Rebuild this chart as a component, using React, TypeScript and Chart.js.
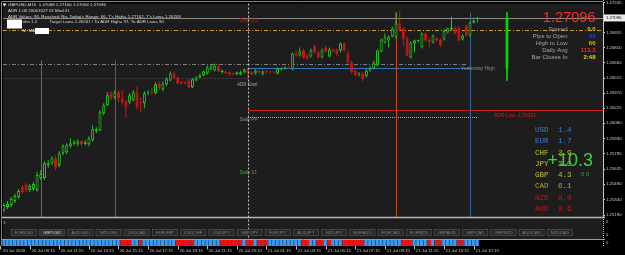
import React, { useEffect, useRef } from "react";
import { Chart, registerables } from "chart.js";

Chart.register(...registerables);

// ---------------- data ----------------
const symbolLine = "GBPUSD,M15  1.27088 1.27106 1.27053 1.27096";
const indicatorLine = "ADR 1.08 20051027 01 Mod 01";
const adrValuesLine = "ADR Values: 96, Reached: No, Today's Range: 66, T's High= 1.27162, T's Low= 1.26203";
const adrTargetPrefix = "ohn 1.2";
const adrTargetLine = "Target Low= 1.26201 / To ADR High= 37, To ADR Low= 90";
const maLine = "M  MA";

const opens = [
  1.25200, 1.25239, 1.25267, 1.25287, 1.25325, 1.25364, 1.25460, 1.25480, 1.25432, 1.25441,
  1.25432, 1.25547, 1.25547, 1.25673, 1.25692, 1.25740, 1.25673, 1.25788, 1.25798, 1.25856,
  1.25880, 1.25875, 1.25904, 1.25875, 1.25875, 1.25914, 1.26001, 1.26010, 1.26174, 1.26251,
  1.26367, 1.26328, 1.26377, 1.26319, 1.26290, 1.26280, 1.26300, 1.26377, 1.26280, 1.26271,
  1.26367, 1.26377, 1.26367, 1.26463, 1.26406, 1.26454, 1.26492, 1.26560, 1.26521, 1.26473,
  1.26473, 1.26492, 1.26425, 1.26492, 1.26521, 1.26541, 1.26560, 1.26599, 1.26589, 1.26628,
  1.26570, 1.26579, 1.26570, 1.26560, 1.26550, 1.26550, 1.26570, 1.26608, 1.26570, 1.26560,
  1.26584, 1.26550, 1.26579, 1.26574, 1.26574, 1.26560, 1.26599, 1.26604, 1.26618, 1.26599,
  1.26753, 1.26734, 1.26782, 1.26734, 1.26724, 1.26820, 1.26762, 1.26714, 1.26811, 1.26724,
  1.26791, 1.26791, 1.26782, 1.26849, 1.26753, 1.26666, 1.26589, 1.26550, 1.26560, 1.26531,
  1.26589, 1.26608, 1.26637, 1.26772, 1.26859, 1.26878, 1.26917, 1.26907, 1.27042, 1.26994,
  1.26898, 1.26714, 1.26849, 1.26873, 1.26811, 1.26946, 1.26888, 1.26859, 1.26898, 1.26888,
  1.26888, 1.26955, 1.26984, 1.27004, 1.27004, 1.26888, 1.27023, 1.26926, 1.27052, 1.27088,
];
const highs = [
  1.25267, 1.25306, 1.25325, 1.25364, 1.25393, 1.25441, 1.25480, 1.25499, 1.25489, 1.25509,
  1.25605, 1.25624, 1.25711, 1.25721, 1.25759, 1.25769, 1.25808, 1.25875, 1.25885, 1.25933,
  1.25914, 1.25923, 1.25914, 1.25914, 1.25952, 1.26058, 1.26039, 1.26203, 1.26271, 1.26377,
  1.26386, 1.26396, 1.26396, 1.26396, 1.26309, 1.26367, 1.26396, 1.26435, 1.26328, 1.26386,
  1.26396, 1.26425, 1.26473, 1.26483, 1.26483, 1.26521, 1.26579, 1.26579, 1.26531, 1.26483,
  1.26483, 1.26502, 1.26512, 1.26531, 1.26560, 1.26589, 1.26637, 1.26647, 1.26656, 1.26647,
  1.26599, 1.26589, 1.26579, 1.26570, 1.26579, 1.26589, 1.26608, 1.26618, 1.26579, 1.26599,
  1.26589, 1.26589, 1.26589, 1.26579, 1.26579, 1.26618, 1.26618, 1.26628, 1.26628, 1.26762,
  1.26782, 1.26811, 1.26801, 1.26753, 1.26801, 1.26840, 1.26782, 1.26801, 1.26830, 1.26811,
  1.26801, 1.26801, 1.26859, 1.26859, 1.26782, 1.26685, 1.26599, 1.26570, 1.26570, 1.26599,
  1.26628, 1.26685, 1.26791, 1.26898, 1.26946, 1.26926, 1.27013, 1.27148, 1.27162, 1.27004,
  1.26917, 1.26869, 1.26888, 1.26888, 1.26955, 1.26955, 1.26898, 1.26936, 1.26907, 1.26898,
  1.26984, 1.27004, 1.27110, 1.27013, 1.27013, 1.26936, 1.27033, 1.27061, 1.27081, 1.27106,
];
const lows = [
  1.25181, 1.25219, 1.25248, 1.25267, 1.25306, 1.25345, 1.25393, 1.25412, 1.25412, 1.25422,
  1.25412, 1.25528, 1.25528, 1.25644, 1.25673, 1.25624, 1.25653, 1.25769, 1.25779, 1.25837,
  1.25866, 1.25856, 1.25856, 1.25866, 1.25856, 1.25904, 1.25981, 1.26001, 1.26155, 1.26242,
  1.26300, 1.26309, 1.26280, 1.26261, 1.26135, 1.26261, 1.26290, 1.26213, 1.26184, 1.26222,
  1.26348, 1.26348, 1.26357, 1.26396, 1.26386, 1.26435, 1.26483, 1.26512, 1.26454, 1.26454,
  1.26454, 1.26415, 1.26415, 1.26483, 1.26512, 1.26531, 1.26550, 1.26589, 1.26579, 1.26570,
  1.26560, 1.26550, 1.26541, 1.26541, 1.26541, 1.26541, 1.26560, 1.26492, 1.26541, 1.26550,
  1.26560, 1.26541, 1.26560, 1.26560, 1.26560, 1.26550, 1.26589, 1.26599, 1.26599, 1.26589,
  1.26724, 1.26724, 1.26705, 1.26695, 1.26714, 1.26753, 1.26705, 1.26705, 1.26762, 1.26714,
  1.26762, 1.26734, 1.26762, 1.26772, 1.26656, 1.26560, 1.26531, 1.26531, 1.26483, 1.26521,
  1.26579, 1.26599, 1.26628, 1.26762, 1.26849, 1.26811, 1.26907, 1.26898, 1.26965, 1.26830,
  1.26724, 1.26705, 1.26762, 1.26859, 1.26801, 1.26869, 1.26811, 1.26849, 1.26869, 1.26820,
  1.26878, 1.26946, 1.26975, 1.26936, 1.26869, 1.26878, 1.26917, 1.26917, 1.27042, 1.27053,
];
const closes = [
  1.25248, 1.25287, 1.25296, 1.25345, 1.25374, 1.25422, 1.25412, 1.25432, 1.25470, 1.25489,
  1.25576, 1.25586, 1.25692, 1.25692, 1.25740, 1.25653, 1.25788, 1.25856, 1.25866, 1.25885,
  1.25894, 1.25904, 1.25875, 1.25894, 1.25933, 1.26020, 1.26020, 1.26184, 1.26251, 1.26348,
  1.26319, 1.26377, 1.26319, 1.26280, 1.26232, 1.26348, 1.26377, 1.26232, 1.26271, 1.26367,
  1.26377, 1.26367, 1.26454, 1.26415, 1.26463, 1.26502, 1.26560, 1.26521, 1.26463, 1.26468,
  1.26463, 1.26425, 1.26502, 1.26521, 1.26541, 1.26579, 1.26618, 1.26628, 1.26637, 1.26579,
  1.26589, 1.26560, 1.26550, 1.26550, 1.26570, 1.26570, 1.26599, 1.26560, 1.26550, 1.26589,
  1.26570, 1.26579, 1.26570, 1.26570, 1.26568, 1.26608, 1.26608, 1.26608, 1.26608, 1.26753,
  1.26734, 1.26772, 1.26714, 1.26705, 1.26782, 1.26762, 1.26714, 1.26782, 1.26772, 1.26791,
  1.26772, 1.26743, 1.26849, 1.26782, 1.26666, 1.26570, 1.26541, 1.26560, 1.26502, 1.26589,
  1.26618, 1.26666, 1.26782, 1.26888, 1.26907, 1.26917, 1.26994, 1.27042, 1.26975, 1.26898,
  1.26734, 1.26859, 1.26878, 1.26878, 1.26946, 1.26878, 1.26869, 1.26926, 1.26878, 1.26830,
  1.26975, 1.26994, 1.27004, 1.26946, 1.26878, 1.26926, 1.26926, 1.27052, 1.27071, 1.27096,
];

// bars (index) where the bottom strip indicator is red
const stripRedBars = [
  33, 34, 35, 38, 48, 49, 50, 51, 52, 60, 61, 62, 63, 64, 65, 67, 68, 70, 71, 72,
  82, 83, 86, 87, 89, 93, 94, 95, 96, 97, 98, 109, 110, 111, 116, 118, 119, 124, 125,
];

const timeTickBars = [0, 8, 16, 24, 32, 40, 48, 56, 64, 72, 80, 88, 96, 104, 112, 120, 128];
const timeTickLabels = [
  "20 Jul 2020", "20 Jul 09:15", "20 Jul 11:15", "20 Jul 13:15", "20 Jul 15:15", "20 Jul 17:15",
  "20 Jul 19:15", "20 Jul 21:15", "20 Jul 23:15", "21 Jul 01:15", "21 Jul 03:15", "21 Jul 05:15",
  "21 Jul 07:15", "21 Jul 09:15", "21 Jul 11:15", "21 Jul 13:15", "21 Jul 15:15",
];
const priceTicks = [
  1.25190, 1.25340, 1.25490, 1.25635, 1.25785, 1.25930, 1.26080, 1.26225,
  1.26370, 1.26515, 1.26665, 1.26810, 1.26955, 1.27245,
];

const bidPrice = 1.27096;
const dailyR1Line = 1.26984;
const yesterdayHighLine = 1.26646;
const priorAdrLine = 1.26511;
const todayOpenLine = 1.26608;
const adrLowLine = 1.26201;
const dailyPivotLine = 1.26135;
const dayStartBar = 67;
const lastBar = 129;

const sessionBars = [11, 31, 107, 127];
const sessionTops = [1.26685, 1.26685, 1.27148, 1.27148];
const sessionKinds = ["london", "newyork", "london", "newyork"];

const dailyCandleBar = 137;
const dailyOpen = 1.26608;
const dailyHigh = 1.27148;
const dailyLow = 1.26492;
const dailyClose = 1.27096;

const chartLabels = [
  { text: "Daily R1", bar: 64.8, price: 1.27071, kind: "r1" },
  { text: "ADR Start", bar: 64.0, price: 1.26454, kind: "adr" },
  { text: "Daily PP", bar: 64.8, price: 1.26107, kind: "pp" },
  { text: "Daily S1", bar: 64.8, price: 1.25595, kind: "s1" },
  { text: "Yesterday High", bar: 124.6, price: 1.26608, kind: "yh" },
  { text: "ADR Low: 1.26201", bar: 133.5, price: 1.26155, kind: "adrlow" },
];

const bidText = "1.27096";
const infoLabels = ["Spread", "Pips to Open", "High to Low", "Daily Avg", "Bar Closes In"];
const infoValues = ["0.0", "40", "66", "113.3", "2:48"];

const currencies = ["USD", "EUR", "CHF", "JPY", "GBP", "CAD", "NZD", "AUD"];
const currencyStrength = [1.4, 1.7, 2.9, 3.0, 4.3, 6.1, 8.0, 8.6];
const strengthTotal = "+10.3";
const strengthDelta = "0.0";

const pairButtons = [
  "EURUSD", "GBPUSD", "AUDUSD", "NZDUSD", "USDCAD", "EURGBP", "USDCHF", "USDJPY", "GBPJPY", "EURJPY",
  "AUDJPY", "NZDJPY", "EURAUD", "EURCAD", "EURNZD", "GBPAUD", "GBPCAD", "GBPNZD", "AUDCAD", "NZDCAD",
];
const activePair = "GBPUSD";

// ---------------- styles ----------------
const SANS = '"Liberation Sans", Arial, sans-serif';
const MONO = '"Liberation Mono", "Courier New", monospace';
const COL = {
  bg: "#1d1d1d",
  bull: "#22c822",
  bear: "#d01818",
  bearFill: "#c81414",
  axisText: "#cfcfcf",
  frame: "#858585",
  daily: "#00dc00",
};
const LEVEL_STYLE: Record<string, { color: string; dash: number[]; width: number }> = {
  bid: { color: "#8a8a8a", dash: [], width: 1 },
  r1: { color: "#d4962a", dash: [4, 2, 1, 2], width: 1 },
  yh: { color: "#7e7e7e", dash: [4, 2, 1, 2], width: 1 },
  prior: { color: "#a81c1c", dash: [1, 1], width: 1 },
  open: { color: "#2f78c8", dash: [], width: 1 },
  adrlow: { color: "#d01e1e", dash: [], width: 1 },
  pp: { color: "#c8c03a", dash: [1, 1], width: 1 },
};
const LABEL_COLOR: Record<string, string> = {
  r1: "#c81e1e",
  adr: "#8aa4b6",
  pp: "#8c8c8c",
  s1: "#34b034",
  yh: "#8c8c8c",
  adrlow: "#d21e1e",
};
const SESSION_COLOR: Record<string, string> = { london: "#c84c1c", newyork: "#37679a" };
const INFO_VALUE_COLORS = ["#e6c200", "#2a3cff", "#d8b400", "#ff2424", "#f0d000"];
const CURRENCY_COLORS = ["#3f7fd6", "#3f7fd6", "#c8c83a", "#c8c41a", "#c8bc40", "#d09a2a", "#c41a1a", "#c41a1a"];

const levels = [
  { price: bidPrice, from: null, to: null, style: "bid" },
  { price: dailyR1Line, from: null, to: null, style: "r1" },
  { price: yesterdayHighLine, from: null, to: 126, style: "yh" },
  { price: priorAdrLine, from: null, to: dayStartBar, style: "prior" },
  { price: todayOpenLine, from: dayStartBar, to: 127, style: "open" },
  { price: adrLowLine, from: dayStartBar, to: null, style: "adrlow" },
  { price: dailyPivotLine, from: dayStartBar, to: lastBar, style: "pp" },
];

const X_MIN = 0.784;
const X_MAX = 162.95;
const Y_MIN = 1.25171;
const Y_MAX = 1.27235;

function txt(ctx: CanvasRenderingContext2D, s: string, x: number, y: number, color: string, size: number, align: CanvasTextAlign = "left", family = SANS, weight = "") {
  ctx.font = `${weight} ${size}px ${family}`.trim();
  ctx.fillStyle = color;
  ctx.textAlign = align;
  ctx.textBaseline = "middle";
  ctx.fillText(s, x, y);
}

const mt4Plugin = {
  id: "mt4",
  beforeDraw(chart: any) {
    const { ctx, chartArea: a, width, height } = chart;
    ctx.save();
    ctx.fillStyle = "#000";
    ctx.fillRect(0, 0, width, height);
    ctx.fillStyle = COL.bg;
    ctx.fillRect(a.left, a.top, a.right - a.left, a.bottom - a.top);
    ctx.fillRect(a.left, a.bottom, a.right - a.left, 22);
    ctx.restore();
  },
  beforeDatasetsDraw(chart: any) {
    const { ctx, chartArea: a, scales } = chart;
    const x = scales.x, y = scales.y;
    ctx.save();
    ctx.beginPath();
    ctx.rect(a.left, a.top, a.right - a.left, a.bottom - a.top);
    ctx.clip();
    for (const L of levels) {
      const st = LEVEL_STYLE[L.style];
      const yy = Math.round(y.getPixelForValue(L.price)) + 0.5;
      const x0 = L.from == null ? a.left : x.getPixelForValue(L.from);
      const x1 = L.to == null ? a.right : x.getPixelForValue(L.to);
      ctx.setLineDash(st.dash);
      ctx.strokeStyle = st.color;
      ctx.lineWidth = st.width;
      ctx.beginPath();
      ctx.moveTo(x0, yy);
      ctx.lineTo(x1, yy);
      ctx.stroke();
    }
    ctx.setLineDash([]);
    sessionBars.forEach((b, k) => {
      const xx = Math.round(x.getPixelForValue(b)) + 0.5;
      ctx.strokeStyle = SESSION_COLOR[sessionKinds[k]];
      ctx.lineWidth = 1;
      ctx.beginPath();
      ctx.moveTo(xx, y.getPixelForValue(sessionTops[k]));
      ctx.lineTo(xx, a.bottom);
      ctx.stroke();
    });
    ctx.restore();
  },
  afterDatasetsDraw(chart: any) {
    const { ctx, scales } = chart;
    const x = scales.x, y = scales.y;
    ctx.save();
    for (const L of chartLabels) {
      txt(ctx, L.text, x.getPixelForValue(L.bar), y.getPixelForValue(L.price), LABEL_COLOR[L.kind], L.kind === "yh" || L.kind === "adrlow" ? 5 : 4.6);
    }
    ctx.fillStyle = "#e8e8e8";
    ctx.beginPath();
    ctx.moveTo(2.5, 3.5);
    ctx.lineTo(6.5, 3.5);
    ctx.lineTo(4.5, 6.5);
    ctx.closePath();
    ctx.fill();
    txt(ctx, symbolLine, 8, 5, "#dcdcdc", 4.4);
    txt(ctx, indicatorLine, 8, 10.8, "#dcdcdc", 4.4);
    txt(ctx, adrValuesLine, 8, 16.4, "#dcdcdc", 4.4);
    txt(ctx, adrTargetPrefix, 22.5, 22, "#dcdcdc", 4.4);
    txt(ctx, adrTargetLine, 49.5, 22, "#dcdcdc", 4.4);
    txt(ctx, maLine, 22.5, 31, "#dcdcdc", 4.4);
    ctx.fillStyle = "#ffffff";
    ctx.fillRect(7, 19.5, 15, 9);
    ctx.fillRect(35, 28, 14, 6);
    txt(ctx, bidText, 595.5, 18.3, "#ff2a2a", 14.6, "right");
    infoLabels.forEach((s, k) => {
      const yy = 29.2 + 7 * k;
      txt(ctx, s, 567.5, yy, "#a4a4a4", 6, "right");
      txt(ctx, infoValues[k], 595.5, yy, INFO_VALUE_COLORS[k], 6, "right", SANS, "bold");
    });
    currencies.forEach((c, k) => {
      const yy = 130 + 11.3 * k;
      txt(ctx, c, 535, yy, CURRENCY_COLORS[k], 7.5, "left", MONO);
      txt(ctx, currencyStrength[k].toFixed(1), 558, yy, CURRENCY_COLORS[k], 7.5, "left", MONO);
    });
    txt(ctx, strengthTotal, 547.5, 161.5, "#3cd23c", 18, "left");
    txt(ctx, strengthDelta, 581, 174, "#2ea82e", 6, "left");
    ctx.restore();
  },
  afterDraw(chart: any) {
    const { ctx, chartArea: a, scales } = chart;
    const x = scales.x, y = scales.y;
    ctx.save();
    ctx.strokeStyle = COL.frame;
    ctx.lineWidth = 1;
    ctx.beginPath();
    ctx.moveTo(1.5, 2);
    ctx.lineTo(1.5, 246);
    ctx.moveTo(1.5, 1.5);
    ctx.lineTo(a.right, 1.5);
    ctx.stroke();
    ctx.strokeStyle = "#b8b8b8";
    ctx.lineWidth = 1.5;
    ctx.beginPath();
    ctx.moveTo(2, a.bottom + 0.5);
    ctx.lineTo(a.right + 2, a.bottom + 0.5);
    ctx.stroke();
    ctx.strokeStyle = "#9c9c9c";
    ctx.lineWidth = 1;
    ctx.beginPath();
    ctx.moveTo(2, 239.5);
    ctx.lineTo(a.right + 2, 239.5);
    ctx.stroke();
    ctx.strokeStyle = "#c8c8c8";
    ctx.setLineDash([1, 1]);
    ctx.beginPath();
    ctx.moveTo(a.right + 0.5, 0);
    ctx.lineTo(a.right + 0.5, a.top);
    ctx.moveTo(a.right + 0.5, a.bottom);
    ctx.lineTo(a.right + 0.5, 246);
    ctx.stroke();
    ctx.strokeStyle = "#c4c4c4";
    ctx.setLineDash([2, 2]);
    const dx = Math.round(x.getPixelForValue(dayStartBar)) + 0.5;
    ctx.beginPath();
    ctx.moveTo(dx, a.top);
    ctx.lineTo(dx, 239);
    ctx.stroke();
    ctx.setLineDash([]);
    txt(ctx, "x", 4.5, 223, "#a8a8a8", 4.6, "center");
    pairButtons.forEach((p, k) => {
      const bx = 11 + 28.2 * k, by = 229, bw = 26, bh = 7;
      const on = p === activePair;
      ctx.fillStyle = on ? "#303030" : "#262626";
      ctx.fillRect(bx, by, bw, bh);
      ctx.strokeStyle = "#434343";
      ctx.lineWidth = 1;
      ctx.strokeRect(bx + 0.5, by + 0.5, bw - 1, bh - 1);
      txt(ctx, p, bx + bw / 2, by + bh / 2 + 0.2, on ? "#d4d4d4" : "#858585", 4.4, "center");
    });
    const w = x.getPixelForValue(1) - x.getPixelForValue(0);
    for (let i = 0; i <= lastBar; i++) {
      const cx = x.getPixelForValue(i);
      const red = stripRedBars.indexOf(i) >= 0;
      const x0 = Math.max(a.left, cx - w / 2);
      const x1 = cx + w / 2;
      ctx.fillStyle = red ? "#1f4a7a" : "#1c5590";
      ctx.fillRect(x0, 240, x1 - x0, 6);
      ctx.fillStyle = red ? "#f21010" : "#3a9cf0";
      ctx.fillRect(x0, 240, red ? x1 - x0 : Math.max(0, x1 - x0 - 0.8), 6);
    }
    txt(ctx, "0", a.right + 3, 222, COL.axisText, 4.2);
    txt(ctx, "0", a.right + 3, 235, COL.axisText, 4.2);
    txt(ctx, "0", a.right + 3, 243, COL.axisText, 4.2);
    // time axis
    ctx.strokeStyle = "#bdbdbd";
    ctx.lineWidth = 1;
    ctx.beginPath();
    timeTickBars.forEach((b, k) => {
      const tx = Math.round(x.getPixelForValue(b)) + 0.5;
      ctx.moveTo(tx, 246);
      ctx.lineTo(tx, 249.5);
      txt(ctx, timeTickLabels[k], Math.max(tx + 1, 3), 250.8, COL.axisText, 4.3);
    });
    ctx.stroke();
    const by = y.getPixelForValue(bidPrice);
    ctx.fillStyle = "#ececec";
    ctx.fillRect(a.right + 1, by - 3.5, 22, 7);
    txt(ctx, bidText, a.right + 3, by + 0.2, "#000", 4.3);
    ctx.restore();
  },
};

export default function App() {
  const ref = useRef<HTMLCanvasElement | null>(null);
  useEffect(() => {
    document.body.style.margin = "0";
    const bull = closes.map((c, i) => c >= opens[i]);
    const chart = new Chart(ref.current as HTMLCanvasElement, {
      type: "bar",
      data: {
        datasets: [
          {
            type: "bar",
            label: "dailyBody",
            data: [{ x: dailyCandleBar, y: [dailyOpen, dailyClose] }],
            barThickness: 2,
            backgroundColor: COL.daily,
            borderWidth: 0,
            grouped: false,
          } as any,
          {
            type: "bar",
            label: "dailyWick",
            data: [{ x: dailyCandleBar, y: [dailyLow, dailyHigh] }],
            barThickness: 1,
            backgroundColor: COL.daily,
            borderWidth: 0,
            grouped: false,
          } as any,
          {
            type: "bar",
            label: "bodies",
            data: opens.map((o, i) => ({ x: i, y: [o, closes[i]] })),
            barThickness: 3,
            minBarLength: 1,
            borderWidth: 1,
            borderSkipped: false,
            inflateAmount: 0,
            backgroundColor: bull.map((b) => (b ? COL.bg : COL.bearFill)),
            borderColor: bull.map((b) => (b ? COL.bull : COL.bear)),
            grouped: false,
          } as any,
          {
            type: "bar",
            label: "wicks",
            data: lows.map((l, i) => ({ x: i, y: [l, highs[i]] })),
            barThickness: 1,
            borderWidth: 0,
            inflateAmount: 0,
            backgroundColor: bull.map((b) => (b ? COL.bull : COL.bear)),
            grouped: false,
          } as any,
        ],
      },
      options: {
        animation: false,
        responsive: false,
        maintainAspectRatio: false,
        devicePixelRatio: 1,
        events: [],
        layout: { padding: { left: 3, top: 3, right: 0, bottom: 38 }, autoPadding: false },
        plugins: { legend: { display: false }, tooltip: { enabled: false } },
        scales: {
          x: {
            type: "linear",
            display: false,
            offset: false,
            min: X_MIN,
            max: X_MAX,
            bounds: "data",
            grid: { display: false, offset: false },
          },
          y: {
            type: "linear",
            position: "right",
            min: Y_MIN,
            max: Y_MAX,
            bounds: "data",
            afterBuildTicks: (s: any) => {
              s.ticks = priceTicks.map((v) => ({ value: v }));
            },
            afterFit: (s: any) => {
              s.width = 22;
            },
            grid: { drawOnChartArea: false, drawTicks: true, tickLength: 2, color: "#c8c8c8" },
            border: { display: true, color: "#c8c8c8", dash: [1, 1] },
            ticks: {
              autoSkip: false,
              padding: 1,
              color: COL.axisText,
              font: { size: 4.3, family: SANS },
              callback: (v: any) => Number(v).toFixed(5),
            },
          },
        },
      } as any,
      plugins: [mt4Plugin as any],
    });
    return () => chart.destroy();
  }, []);
  return (
    <div style={{ position: "fixed", left: 0, top: 0, width: 625, height: 255, background: "#000", overflow: "hidden" }}>
      <canvas ref={ref} width={625} height={255} style={{ display: "block", width: 625, height: 255 }} />
    </div>
  );
}
